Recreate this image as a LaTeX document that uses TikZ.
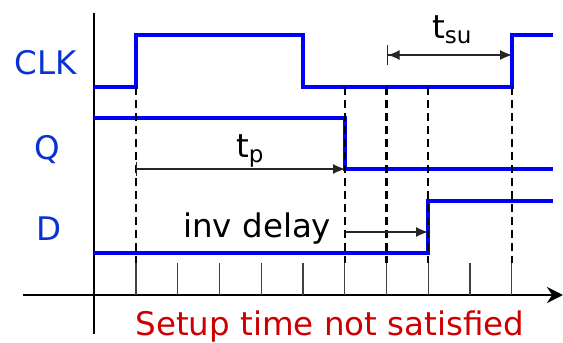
\documentclass[tikz,border=0pt]{standalone}
\usepackage{fontspec}
\setmainfont{DejaVu Sans}
\usetikzlibrary{arrows.meta}
\definecolor{sigblue}{RGB}{0,0,245}
\definecolor{lblblue}{RGB}{10,50,210}
\definecolor{warnred}{RGB}{204,0,0}
\newcommand{\bigfont}{\fontsize{32.5}{36}\selectfont}
\newcommand{\subfont}{\fontsize{23}{26}\selectfont}
\begin{document}
\begin{tikzpicture}[x=1pt,y=-1pt,
  signal/.style={draw=sigblue, line width=4pt, line join=miter},
  guide/.style={draw=black, line width=2.6pt, dash pattern=on 8pt off 5pt},
  axisline/.style={draw=black, line width=2.6pt},
  tickmark/.style={draw=black!75, line width=1.3pt},
  dim/.style={draw=black!85, line width=1.2pt},
  tip/.style={},
  lbl/.style={text=lblblue, font=\bigfont, inner sep=0pt, anchor=base},
  note/.style={text=black, font=\bigfont, inner sep=0pt, anchor=base west}]
\useasboundingbox (0,0) rectangle (563,343);

% axes
\coordinate (yBot) at (94,334);
\coordinate (yTop) at (94,13);
\coordinate (xL) at (23,295);
\coordinate (xR) at (563,295);
\draw[axisline] (yBot) -- (yTop);
\draw[axisline, -{Stealth[length=16pt,width=16pt]}] (xL) -- (xR);

% ticks
\foreach \k in {0,...,9} {
  \draw[tickmark] ({136+41.75*\k},263) -- ({136+41.75*\k},295);
}

% signals
\draw[signal] (94,87) -- (136,87) -- (136,35) -- (303,35) -- (303,87) -- (512,87) -- (512,35) -- (553,35);
\draw[signal] (94,118) -- (345,118) -- (345,169) -- (553,169);
\draw[signal] (94,253) -- (428,253) -- (428,201) -- (553,201);

% guide lines
\foreach \x in {136,345,386.5,428,512} {
  \draw[guide] (\x,87) -- (\x,263);
}

% labels
\node[lbl] (clk) at (46,74) {CLK};
\node[lbl] (q) at (47,159) {Q};
\node[lbl] (d) at (49,240) {D};

% t_p
\coordinate (tpA) at (136,169);
\coordinate (tpB) at (345,169);
\draw[dim, {Bar[width=14pt]}-{Latex[length=12pt,width=10pt]}] (tpA) -- (tpB);
\node[note] (tp) at (236,157) {t\raisebox{-5pt}{\subfont p}};

% t_su
\coordinate (tsuA) at (386.5,55);
\coordinate (tsuB) at (512,55);
\draw[dim, {Bar[width=20pt]Latex[length=12pt,width=10pt]}-{Latex[length=12pt,width=10pt]}] (tsuA) -- (tsuB);
\node[note] (tsu) at (432,38) {t\raisebox{-5pt}{\subfont su}};

% inv delay
\coordinate (ivA) at (345,232);
\coordinate (ivB) at (428,232);
\draw[dim, -{Latex[length=12pt,width=10pt]}] (ivA) -- (ivB);
\node[note] (inv) at (183,237) {inv delay};

% caption
\node[text=warnred, font=\bigfont, inner sep=0pt, anchor=base] (cap) at (330,335) {Setup time not satisfied};
\end{tikzpicture}
\end{document}
